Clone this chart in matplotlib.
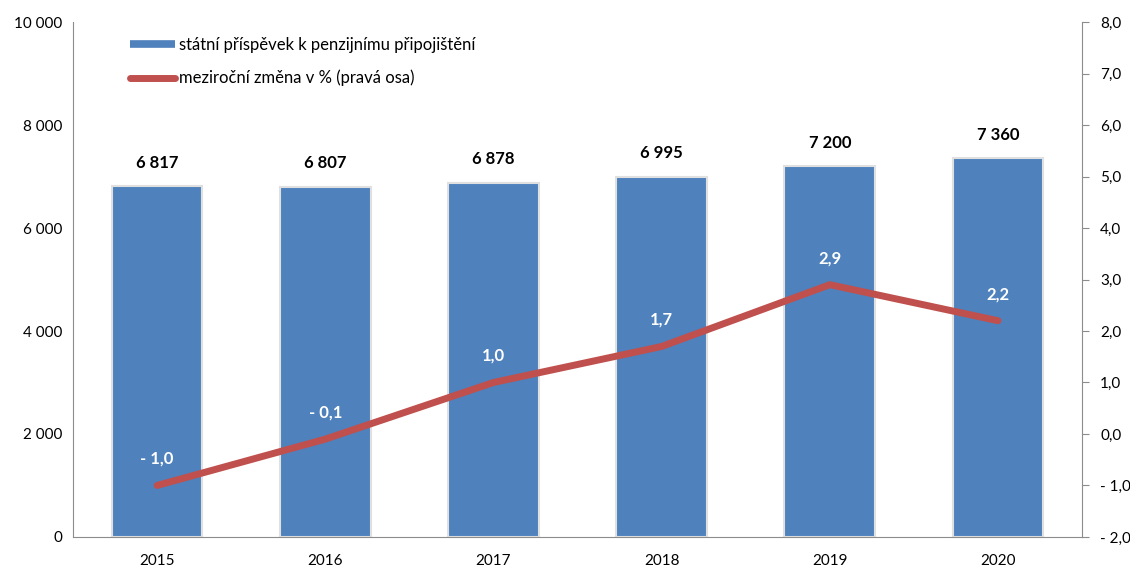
import numpy as np
import matplotlib.pyplot as plt
from matplotlib.lines import Line2D

plt.rcParams['font.family'] = ['Lato', 'DejaVu Sans']

# data
roky = ['2015', '2016', '2017', '2018', '2019', '2020']
prispevek = [6817, 6807, 6878, 6995, 7200, 7360]
zmena = [-1.0, -0.1, 1.0, 1.7, 2.9, 2.2]

modra = '#4F81BD'
cervena = '#C0504D'
seda = '#8C8C8C'


def fmt_tis(v):
    return f"{v:,.0f}".replace(',', ' ')


def fmt_pct(v):
    s = f"{abs(v):.1f}".replace('.', ',')
    return ('- ' + s) if v < 0 else s


fig = plt.figure(figsize=(11.3, 5.67), dpi=100)
ax = fig.add_axes([0.0646, 0.053, 0.893, 0.908])
ax2 = ax.twinx()

x = np.arange(len(roky))
ax.bar(x, prispevek, width=0.54, color=modra, edgecolor='#E0E0E0', linewidth=1.5, zorder=2)
ax.set_xlim(-0.5, len(roky) - 0.5)
ax.set_ylim(0, 10000)
ax.set_yticks(np.arange(0, 10001, 2000))
ax.set_yticklabels([fmt_tis(v) for v in np.arange(0, 10001, 2000)])
ax.set_xticks(x)
ax.set_xticklabels(roky)

for xi, v in zip(x, prispevek):
    ax.text(xi, v + 300, fmt_tis(v), ha='center', va='bottom', fontsize=12,
            fontweight='bold', color='black')

ax2.plot(x, zmena, color=cervena, lw=5, solid_capstyle='round', solid_joinstyle='round', zorder=3)
ax2.set_ylim(-2, 8)
ax2.set_yticks(np.arange(-2, 8.1, 1))
ax2.set_yticklabels([fmt_pct(v) for v in np.arange(-2, 8.1, 1)])

for xi, v in zip(x, zmena):
    ax2.text(xi, v + 0.36, fmt_pct(v), ha='center', va='bottom', fontsize=12,
             fontweight='bold', color='white')

for a in (ax, ax2):
    for s in a.spines.values():
        s.set_visible(False)
    a.tick_params(labelsize=11, colors='black')
ax.spines['left'].set_visible(True)
ax.spines['bottom'].set_visible(True)
ax2.spines['right'].set_visible(True)
ax.spines['left'].set_color(seda)
ax.spines['bottom'].set_color(seda)
ax2.spines['right'].set_color(seda)
ax.tick_params(axis='both', length=0, pad=8)
ax.tick_params(axis='x', pad=12)
ax2.tick_params(axis='y', length=5, color=seda, pad=8)

handles = [Line2D([], [], color=modra, lw=5.5, solid_capstyle='butt'),
           Line2D([], [], color=cervena, lw=5, solid_capstyle='round')]
labels = ['státní příspěvek k penzijnímu připojištění', 'meziroční změna v % (pravá osa)']
ax.legend(handles, labels, loc='upper left', bbox_to_anchor=(0.042, 1.0), frameon=False,
          fontsize=12, handlelength=2.7, handletextpad=0.2, labelspacing=1.0)

plt.savefig('out.png', dpi=100)
